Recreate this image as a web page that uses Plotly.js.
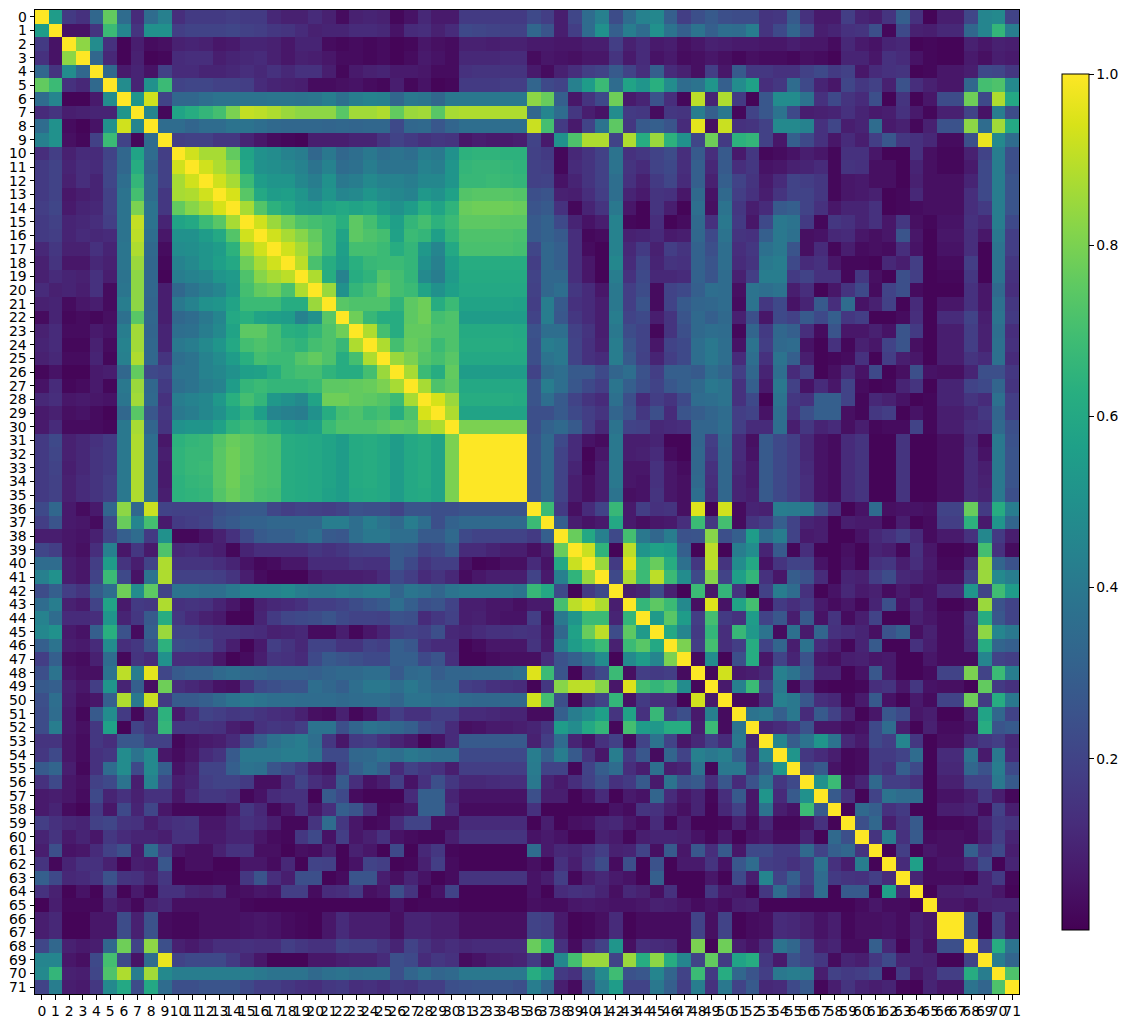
<!DOCTYPE html>
<html><head><meta charset="utf-8">
<script src="https://cdn.plot.ly/plotly-3.0.1.min.js"></script>
<style>html,body{margin:0;padding:0;background:#fff}</style></head>
<body><div id="chart" style="width:1142px;height:1024px"></div>
<script>
// Lower triangle of the symmetric matrix, in hundredths.
const lowerRows = [
[100],
[55,100],
[17,5,100],
[14,5,83,100],
[33,15,48,33,100],
[76,68,14,11,34,100],
[35,45,1,1,7,48,100],
[12,15,8,9,10,10,52,100],
[35,50,3,1,5,50,93,45,100],
[43,50,4,2,19,68,20,2,35,100],
[13,18,9,12,12,20,33,58,35,18,100],
[17,20,10,13,12,21,33,62,32,19,93,100],
[17,20,9,13,10,21,36,66,35,19,87,93,100],
[17,20,6,8,10,19,38,70,35,16,87,88,93,100],
[18,21,7,10,11,19,38,80,38,16,76,82,87,94,100],
[17,19,10,11,13,18,38,91,38,10,58,60,68,74,87,100],
[17,18,10,12,11,12,38,90,36,6,50,50,55,60,73,93,100],
[11,16,9,9,14,10,39,88,34,3,48,49,52,55,64,85,93,100],
[9,15,6,6,11,9,39,85,33,2,44,47,52,56,60,78,87,93,100],
[9,12,10,9,14,8,38,83,33,1,42,44,46,52,54,72,82,87,90,100],
[12,9,10,8,14,3,39,83,33,8,33,38,42,45,53,70,76,78,71,88,100],
[9,10,3,6,8,3,42,83,32,8,40,44,50,52,58,68,68,68,62,62,85,100],
[3,10,2,3,2,4,37,74,33,8,33,35,40,45,60,63,58,56,55,44,50,74,100],
[9,12,3,3,7,5,42,86,32,10,36,37,42,47,58,75,75,70,63,62,66,72,78,100],
[10,12,2,2,9,3,44,86,33,10,40,42,47,52,60,70,72,70,67,65,70,72,67,88,100],
[9,11,3,3,10,2,43,88,33,15,36,38,44,48,55,63,70,68,68,73,76,72,62,70,88,100],
[2,5,1,1,7,8,33,76,22,20,38,38,44,46,50,56,57,62,68,70,70,65,62,62,70,85,100],
[5,12,2,3,7,2,40,85,33,17,36,38,42,44,55,66,68,66,66,66,68,75,75,76,77,80,87,100],
[11,13,6,7,6,5,39,86,34,14,42,44,46,53,63,70,66,53,50,47,58,78,78,76,75,73,68,87,100],
[7,9,4,5,3,1,33,74,27,16,40,42,46,50,58,64,56,45,43,42,50,62,70,72,68,70,62,72,94,100],
[7,12,3,3,3,2,40,87,32,15,50,52,52,57,65,68,66,60,56,54,56,68,72,72,72,74,76,75,85,88,100],
[17,22,9,11,14,17,40,88,36,6,64,66,67,73,77,75,72,71,62,61,60,58,55,61,62,60,55,60,62,58,80,100],
[17,21,9,11,15,17,40,88,36,8,65,67,67,74,78,75,72,71,62,61,60,58,55,61,62,60,55,60,62,58,80,100,100],
[17,20,8,11,15,17,40,88,36,7,65,67,68,74,78,75,72,71,62,61,60,58,55,61,62,60,55,60,62,58,80,100,100,100],
[17,19,9,12,15,18,40,88,36,7,64,66,67,74,78,74,72,71,62,61,60,58,55,61,62,60,55,60,62,58,80,100,100,100,100],
[17,19,9,12,15,18,40,88,36,8,64,65,66,73,77,74,71,70,62,61,60,57,55,60,61,60,55,60,61,58,80,100,100,100,100,100],
[22,33,7,3,7,32,83,33,92,20,19,19,19,24,26,28,28,21,18,20,19,18,20,25,24,24,20,26,26,24,24,26,26,26,26,26,100],
[18,26,7,6,3,22,77,45,70,7,17,18,20,26,28,31,31,33,33,33,33,42,42,36,42,38,34,42,36,24,31,34,34,34,34,34,68,100],
[8,8,6,5,9,20,30,35,17,50,2,2,5,9,14,22,28,30,30,33,36,28,27,36,40,40,36,36,28,28,34,22,20,20,20,20,17,30,100],
[21,18,6,4,13,43,6,16,7,72,11,12,10,8,2,10,13,13,13,13,16,14,16,19,20,20,28,27,20,22,28,12,12,10,8,8,4,8,77,100],
[35,35,8,6,18,55,15,8,20,88,15,15,15,13,10,5,2,3,6,6,12,12,12,15,14,14,28,22,15,18,18,5,1,2,4,4,12,5,60,92,100],
[43,50,8,6,20,68,22,5,38,88,19,19,19,18,15,8,3,1,1,1,6,8,8,8,9,12,22,18,12,15,11,3,6,8,8,8,20,7,43,65,85,100],
[23,30,18,15,28,35,78,48,75,20,38,38,36,36,40,44,44,44,46,42,40,40,42,40,42,42,32,39,37,32,38,40,40,40,40,38,67,60,22,1,17,22,100],
[35,42,9,7,20,58,7,17,16,88,14,15,14,10,6,2,9,11,12,14,18,18,20,23,26,28,36,30,24,26,20,8,8,6,6,4,7,7,70,90,95,88,8,100],
[44,35,12,12,13,52,10,16,28,62,16,12,9,7,1,1,10,17,21,22,23,26,22,20,20,19,25,24,12,16,19,8,9,6,5,5,18,4,40,52,68,68,10,66,100],
[46,50,7,5,30,63,25,3,30,85,20,20,17,15,15,13,12,9,10,11,3,3,8,2,6,10,18,20,18,24,11,10,12,14,14,15,14,6,33,57,77,90,23,75,54,100],
[30,38,8,7,12,48,13,16,26,64,23,22,21,14,8,1,7,18,15,11,20,20,15,15,20,18,30,27,15,12,12,1,3,6,6,6,15,7,42,55,62,68,9,68,74,60,100],
[18,30,4,3,9,35,2,15,12,50,13,13,12,6,1,3,8,15,14,12,22,28,26,24,22,22,30,30,22,26,13,1,1,3,4,4,4,13,25,30,37,48,1,47,55,45,80,100],
[24,38,6,4,4,38,90,42,96,21,28,30,30,34,36,34,33,31,31,31,30,32,34,34,36,36,28,34,35,29,32,32,33,33,34,36,95,68,26,1,16,22,68,4,18,17,18,3,100],
[28,30,9,6,18,52,10,30,4,78,13,11,9,5,4,14,22,24,26,26,36,33,30,36,40,40,36,40,36,32,32,18,17,14,13,12,1,16,82,90,90,82,6,95,70,66,70,48,2,100],
[24,36,8,4,6,30,88,40,92,17,28,28,30,34,38,40,38,36,36,35,35,35,34,35,36,36,32,38,38,35,36,34,33,33,33,33,93,70,24,1,15,20,66,5,17,13,13,1,93,7,100],
[23,35,7,2,28,48,17,2,14,64,7,13,20,18,16,17,15,13,12,9,4,3,9,2,5,12,18,14,14,18,18,12,12,11,10,10,3,3,30,42,48,56,15,58,14,67,18,24,7,43,3,100],
[23,42,7,4,16,57,1,20,15,66,16,16,15,14,8,6,14,16,15,18,38,38,24,32,38,36,33,30,22,20,12,4,5,7,7,8,10,15,55,48,60,66,2,70,55,53,62,62,8,68,3,38,100],
[15,15,6,3,16,13,27,27,19,19,2,5,7,8,12,22,30,37,40,42,36,16,6,17,18,14,10,7,1,5,12,28,28,28,28,28,9,18,35,10,5,14,19,3,20,38,20,6,11,19,12,40,10,100],
[16,22,6,3,14,16,48,38,47,6,3,6,12,15,28,40,40,40,42,42,38,22,22,33,34,38,36,40,38,36,36,22,22,22,22,22,42,30,42,28,15,6,42,17,27,3,32,20,43,40,43,30,12,45,100],
[28,32,8,2,14,35,48,22,47,30,5,9,20,20,30,38,37,26,22,17,8,5,19,30,35,30,12,19,16,14,8,18,18,18,18,18,41,20,20,2,20,29,35,13,8,37,8,10,38,2,40,40,16,29,52,100],
[14,22,6,4,19,22,38,8,44,22,8,10,18,20,20,17,4,4,12,20,13,10,28,13,5,8,18,5,14,24,16,11,11,12,13,13,40,10,7,13,19,25,14,17,28,7,38,25,28,13,27,12,25,38,16,22,100],
[7,8,6,3,22,10,14,9,14,14,6,12,16,16,14,2,5,12,14,14,1,28,22,3,1,1,1,12,30,30,10,5,5,5,5,5,24,8,8,1,5,12,1,7,5,32,12,6,10,2,13,28,6,52,12,28,50,100],
[7,10,3,1,17,6,22,10,21,6,2,2,2,2,6,16,11,2,6,14,6,13,30,26,14,2,4,6,30,30,12,3,3,3,3,3,14,1,1,1,1,1,5,3,15,14,8,4,10,1,11,19,6,38,8,5,68,28,100],
[18,14,11,10,19,21,15,14,8,12,14,15,6,6,10,14,12,8,2,2,15,35,16,6,2,3,12,20,20,4,4,12,12,12,12,12,1,8,1,4,5,10,11,6,3,12,2,8,1,1,2,9,3,11,2,2,5,14,1,100],
[10,15,7,10,6,16,12,10,10,8,14,14,7,7,10,10,6,3,2,16,22,5,18,6,9,14,5,3,2,2,8,15,15,15,15,15,5,7,5,1,1,9,7,2,8,10,10,9,5,2,7,1,5,7,3,3,10,1,34,24,100],
[8,24,5,6,12,19,24,7,35,18,6,4,4,9,14,14,4,4,1,4,3,9,1,9,6,1,22,1,11,16,2,1,1,1,1,1,35,7,11,10,14,18,9,10,20,4,28,6,27,13,28,6,22,22,17,17,34,20,30,33,15,100],
[15,2,10,14,14,9,1,8,7,27,1,4,4,1,1,6,6,3,11,1,20,19,1,5,20,18,1,2,9,18,3,1,1,1,1,1,4,1,14,8,16,23,3,24,1,25,1,7,7,15,5,27,35,18,17,14,18,38,14,8,42,1,100],
[30,22,11,12,15,25,15,14,9,16,1,1,1,2,2,16,26,13,8,24,24,1,3,26,26,8,4,10,5,1,3,15,15,15,15,15,5,8,18,2,8,11,7,5,1,30,1,1,1,6,1,22,8,45,20,30,18,35,17,15,14,18,12,100],
[14,9,1,5,1,13,1,7,2,14,14,10,9,11,3,4,6,5,18,18,3,12,13,17,4,6,24,15,1,5,20,1,1,1,1,1,5,1,12,14,13,10,4,11,9,4,14,1,1,16,7,6,1,16,35,22,14,35,1,28,28,1,56,10,100],
[1,8,2,2,2,9,6,2,9,11,4,4,4,4,4,2,1,1,1,1,1,1,1,1,1,1,5,1,2,2,2,1,1,1,1,1,4,3,3,6,7,6,5,5,6,9,8,6,3,5,3,8,9,1,1,1,1,1,1,1,3,6,3,3,1,100],
[8,11,1,1,6,6,23,9,25,3,2,2,4,4,4,5,6,5,3,2,1,6,12,8,8,8,4,10,10,8,8,4,4,4,4,4,20,18,7,1,2,4,12,1,3,3,3,3,20,4,20,1,3,4,12,11,9,5,8,2,4,4,5,3,8,6,100],
[8,11,1,1,6,6,23,9,25,3,2,2,4,4,4,5,6,5,3,2,1,6,12,8,8,8,4,10,10,8,8,4,4,4,4,4,20,18,7,1,2,4,12,1,3,3,3,3,20,4,20,1,3,4,12,11,9,5,8,2,4,4,5,3,8,6,100,100],
[21,33,9,7,8,33,78,20,83,24,9,7,10,13,13,14,13,13,18,16,14,14,20,18,18,15,10,20,15,11,13,11,12,12,12,12,77,64,14,3,13,19,52,4,13,12,11,3,80,1,78,8,5,12,38,33,20,8,10,3,3,30,11,1,10,4,24,24,100],
[45,45,6,4,22,70,22,5,35,97,20,22,22,22,17,11,6,1,1,1,6,6,8,9,9,12,24,22,12,16,14,3,5,8,9,10,17,7,46,70,85,85,20,85,62,83,62,45,20,76,17,58,62,16,7,25,20,16,3,10,8,16,22,10,10,9,1,1,20,100],
[47,66,9,8,21,72,88,42,86,47,42,42,42,42,42,42,40,38,38,38,34,37,38,36,37,37,24,32,37,32,34,40,40,40,40,40,62,52,17,14,32,47,69,25,27,45,32,20,68,17,62,33,26,18,40,42,40,8,19,17,18,22,1,17,6,10,18,18,62,42,100],
[20,42,8,7,16,47,60,23,60,35,24,24,26,26,26,22,18,18,16,14,13,16,17,13,14,12,16,15,18,18,24,25,26,26,26,24,42,32,8,3,25,42,55,20,20,40,30,18,42,14,40,20,28,11,12,22,28,2,8,15,10,8,10,2,1,10,6,6,38,32,72,100]
];
const indexLabels = lowerRows.map((_, i) => i);
const barTicks = [0.2, 0.4, 0.6, 0.8, 1.0];

const z = indexLabels.map(i => indexLabels.map(j =>
  (j <= i ? lowerRows[i][j] : lowerRows[j][i]) / 100));

const W = 1142, H = 1024;
const axisCommon = {
  tickmode: 'array', tickvals: indexLabels, ticktext: indexLabels.map(String),
  ticks: 'outside', ticklen: 4.5, tickwidth: 1, tickcolor: '#000',
  showgrid: false, zeroline: false, showline: true, linecolor: '#000', linewidth: 1, mirror: true,
  tickangle: 0, automargin: false,
  tickfont: {family: 'DejaVu Sans', size: 13.9, color: '#000'}
};
Plotly.newPlot('chart', [{
  type: 'heatmap', z: z, x: indexLabels, y: indexLabels,
  colorscale: 'Viridis', zmin: 0, zmax: 1, hoverinfo: 'skip',
  colorbar: {
    lenmode: 'pixels', len: 856, thicknessmode: 'pixels', thickness: 27,
    x: 1062/W, xanchor: 'left', xpad: 0, y: 1 - 74/H, yanchor: 'top', ypad: 0,
    tickmode: 'array', tickvals: barTicks, ticktext: barTicks.map(v => v.toFixed(1)),
    ticks: 'outside', ticklen: 4.5, tickwidth: 1, tickcolor: '#000',
    outlinecolor: '#000', outlinewidth: 1,
    tickfont: {family: 'DejaVu Sans', size: 13.9, color: '#000'}
  }
}], {
  width: W, height: H, margin: {l: 0, r: 0, t: 0, b: 0},
  paper_bgcolor: '#fff', plot_bgcolor: '#fff', showlegend: false,
  xaxis: Object.assign({}, axisCommon, {domain: [35/W, 1019/W], range: [-0.5, 71.5], side: 'bottom', anchor: 'y'}),
  yaxis: Object.assign({}, axisCommon, {domain: [1 - 994/H, 1 - 10/H], range: [71.5, -0.5], anchor: 'x'})
}, {staticPlot: true, displayModeBar: false});
</script></body></html>
